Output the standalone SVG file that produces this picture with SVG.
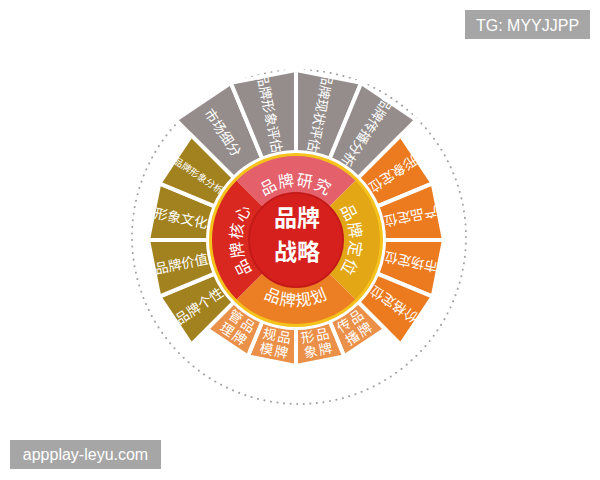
<svg xmlns="http://www.w3.org/2000/svg" xmlns:xlink="http://www.w3.org/1999/xlink" width="600" height="480" viewBox="0 0 600 480">
<style>
.seg{stroke:#ffffff;stroke-width:4;stroke-linejoin:miter}
.gray{fill:#948d8b}
.orange{fill:#ec7a1e}
.light{fill:#eb9048}
.olive{fill:#a1821f}
.t{fill:#ffffff;font-family:"Noto Sans CJK SC","Noto Sans",sans-serif;font-size:13.5px;text-anchor:middle;dominant-baseline:central}
.ts{font-size:9.5px}
.ring{font-family:"Noto Sans CJK SC","Noto Sans",sans-serif;font-size:16px;fill:#ffffff;letter-spacing:1px}
.ctr{fill:#ffffff;font-family:"Noto Sans CJK SC",sans-serif;font-size:23px;font-weight:bold;text-anchor:middle}
.wm{fill:#a6a6a6}
.wmt{fill:#ffffff;font-family:"Liberation Sans",Arial,sans-serif;font-size:16px;text-anchor:middle}
</style>
<defs>
<path id="arcTop" d="M257.8,201.8 A54,54 0 0 1 334.2,201.8"/>
<path id="arcRight" d="M334.2,201.8 A54,54 0 0 1 334.2,278.2"/>
<path id="arcLeft" d="M257.8,278.2 A54,54 0 0 1 257.8,201.8"/>
<path id="arcBottom" d="M249.3,286.7 A66,66 0 0 0 342.7,286.7"/>
</defs>
<rect width="600" height="480" fill="#ffffff"/>
<circle cx="299" cy="237" r="167" fill="none" stroke="#a3a3a3" stroke-width="2" stroke-dasharray="0.1 6.5" stroke-linecap="round"/>

<g id="seg-shichangxifen"><path class="seg gray" d="M233.8,177.8 L175.8,119.8 L230.9,82.9 L262.3,158.7 A88,88 0 0 0 233.8,177.8 Z"/><text class="t" transform="translate(223.8,131.9) rotate(56.25)">市场细分</text></g>
<g id="seg-xingxiangpinggu"><path class="seg gray" d="M262.3,158.7 L230.9,82.9 L296,70 L296,152 A88,88 0 0 0 262.3,158.7 Z"/><text class="t" transform="translate(270.6,112.5) rotate(78.75)">品牌形象评估</text></g>
<g id="seg-xianzhuangpinggu"><path class="seg gray" d="M296,152 L296,70 L361.1,82.9 L329.7,158.7 A88,88 0 0 0 296,152 Z"/><text class="t" transform="translate(321.4,112.5) rotate(101.25)">品牌现状评估</text></g>
<g id="seg-chuanbofenxi"><path class="seg gray" d="M329.7,158.7 L361.1,82.9 L416.2,119.8 L358.2,177.8 A88,88 0 0 0 329.7,158.7 Z"/><text class="t" transform="translate(368.2,131.9) rotate(123.75)">品牌传播分析</text></g>

<g id="seg-xingxiangdingwei"><path class="seg orange" d="M358.2,177.8 L400.7,135.3 L432.7,183.4 L377.3,206.3 A88,88 0 0 0 358.2,177.8 Z"/><text class="t" transform="translate(393.3,175) rotate(146.25)">形象定位</text></g>
<g id="seg-chanpindingwei"><path class="seg orange" d="M377.3,206.3 L432.7,183.4 L444,240 L384,240 A88,88 0 0 0 377.3,206.3 Z"/><text class="t" transform="translate(410.8,217.2) rotate(168.75)">产品定位</text></g>
<g id="seg-shichangdingwei"><path class="seg orange" d="M384,240 L444,240 L432.7,296.6 L377.3,273.7 A88,88 0 0 0 384,240 Z"/><text class="t" transform="translate(410.8,262.8) rotate(191.25)">市场定位</text></g>
<g id="seg-jiagedingwei"><path class="seg orange" d="M377.3,273.7 L432.7,296.6 L400.7,344.7 L358.2,302.2 A88,88 0 0 0 377.3,273.7 Z"/><text class="t" transform="translate(393.3,305) rotate(213.75)">价格定位</text></g>

<g id="seg-pinpaichuanbo"><path class="seg light" d="M358.2,302.2 L385.1,329.1 L344.2,356.4 L329.7,321.3 A88,88 0 0 0 358.2,302.2 Z"/><g transform="translate(353.8,326.5) rotate(-33.75)"><text class="t" x="7.5" y="-7.5">品</text><text class="t" x="7.5" y="7.5">牌</text><text class="t" x="-7.5" y="-7.5">传</text><text class="t" x="-7.5" y="7.5">播</text></g></g>
<g id="seg-pinpaixingxiang"><path class="seg light" d="M329.7,321.3 L344.2,356.4 L296,366 L296,328 A88,88 0 0 0 329.7,321.3 Z"/><g transform="translate(316.3,342) rotate(-11.25)"><text class="t" x="7.5" y="-7.5">品</text><text class="t" x="7.5" y="7.5">牌</text><text class="t" x="-7.5" y="-7.5">形</text><text class="t" x="-7.5" y="7.5">象</text></g></g>
<g id="seg-pinpaiguimo"><path class="seg light" d="M296,328 L296,366 L247.8,356.4 L262.3,321.3 A88,88 0 0 0 296,328 Z"/><g transform="translate(275.7,342) rotate(11.25)"><text class="t" x="7.5" y="-7.5">品</text><text class="t" x="7.5" y="7.5">牌</text><text class="t" x="-7.5" y="-7.5">规</text><text class="t" x="-7.5" y="7.5">模</text></g></g>
<g id="seg-pinpaiguanli"><path class="seg light" d="M262.3,321.3 L247.8,356.4 L206.9,329.1 L233.8,302.2 A88,88 0 0 0 262.3,321.3 Z"/><g transform="translate(238.2,326.5) rotate(33.75)"><text class="t" x="7.5" y="-7.5">品</text><text class="t" x="7.5" y="7.5">牌</text><text class="t" x="-7.5" y="-7.5">管</text><text class="t" x="-7.5" y="7.5">理</text></g></g>

<g id="seg-pinpaigexing"><path class="seg olive" d="M233.8,302.2 L191.3,344.7 L159.3,296.6 L214.7,273.7 A88,88 0 0 0 233.8,302.2 Z"/><text class="t" transform="translate(198.7,305) rotate(-33.75)">品牌个性</text></g>
<g id="seg-pinpaijiazhi"><path class="seg olive" d="M214.7,273.7 L159.3,296.6 L148,240 L208,240 A88,88 0 0 0 214.7,273.7 Z"/><text class="t" transform="translate(181.2,262.8) rotate(-11.25)">品牌价值</text></g>
<g id="seg-xingxiangwenhua"><path class="seg olive" d="M208,240 L148,240 L159.3,183.4 L214.7,206.3 A88,88 0 0 0 208,240 Z"/><text class="t" transform="translate(181.2,217.2) rotate(11.25)">形象文化</text></g>
<g id="seg-xingxiangfenxi"><path class="seg olive" d="M214.7,206.3 L159.3,183.4 L191.3,135.3 L233.8,177.8 A88,88 0 0 0 214.7,206.3 Z"/><text class="t ts" transform="translate(198.7,175) rotate(33.75)">品牌形象分析</text></g>

<g id="ring-yanjiu"><path fill="#e4606b" d="M235.9,179.9 A85,85 0 0 1 356.1,179.9 L329.2,206.8 A47,47 0 0 0 262.8,206.8 Z"/><text class="ring"><textPath href="#arcTop" xlink:href="#arcTop" startOffset="50%" text-anchor="middle">品牌研究</textPath></text></g>
<g id="ring-dingwei"><path fill="#e3a614" d="M356.1,179.9 A85,85 0 0 1 356.1,300.1 L329.2,273.2 A47,47 0 0 0 329.2,206.8 Z"/><text class="ring"><textPath href="#arcRight" xlink:href="#arcRight" startOffset="50%" text-anchor="middle">品牌定位</textPath></text></g>
<g id="ring-guihua"><path fill="#ec7f24" d="M356.1,300.1 A85,85 0 0 1 235.9,300.1 L262.8,273.2 A47,47 0 0 0 329.2,273.2 Z"/><text class="ring"><textPath href="#arcBottom" xlink:href="#arcBottom" startOffset="50%" text-anchor="middle">品牌规划</textPath></text></g>
<g id="ring-hexin"><path fill="#d9281f" d="M235.9,300.1 A85,85 0 0 1 235.9,179.9 L262.8,206.8 A47,47 0 0 0 262.8,273.2 Z"/><text class="ring"><textPath href="#arcLeft" xlink:href="#arcLeft" startOffset="50%" text-anchor="middle">品牌核心</textPath></text></g>
<circle cx="296" cy="240" r="85.5" fill="none" stroke="#f5c21c" stroke-width="3"/>

<g id="center"><circle cx="296" cy="240" r="47" fill="#d6201e" stroke="#c41a18" stroke-width="2"/><text class="ctr"><tspan x="297" y="226">品牌</tspan><tspan x="297" y="260">战略</tspan></text></g>

<g id="connectors"></g>

<g id="watermark-tg"><rect class="wm" x="465" y="10" width="125" height="29"/><text class="wmt" x="527.5" y="31">TG: MYYJJPP</text></g>
<g id="watermark-site"><rect class="wm" x="10" y="440" width="151" height="29"/><text class="wmt" x="85.5" y="460">appplay-leyu.com</text></g>
</svg>
